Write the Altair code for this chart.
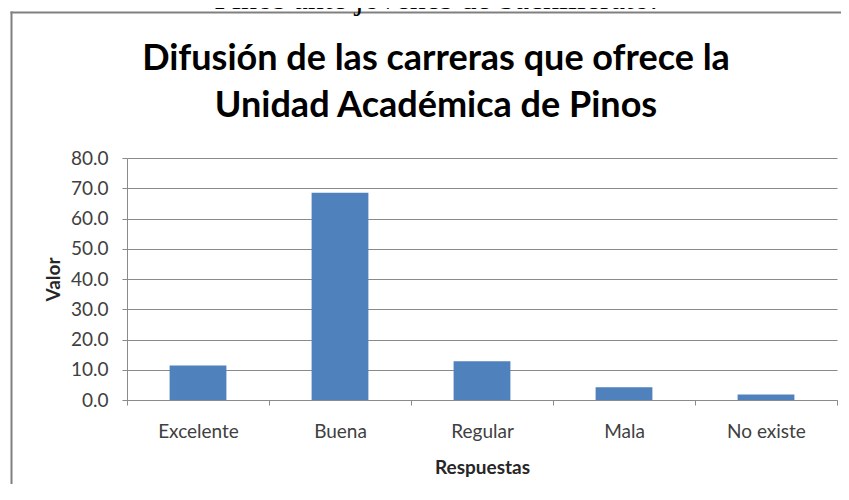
import altair as alt
import pandas as pd

# ---- data ----
categorias = ["Excelente", "Buena", "Regular", "Mala", "No existe"]
valores = [11.4, 68.5, 12.8, 4.2, 1.8]
y_ticks = [0, 10, 20, 30, 40, 50, 60, 70, 80]

titulo_1 = "Difusión de las carreras que ofrece la"
titulo_2 = "Unidad Académica de Pinos"
texto_superior = "Pinos ante jóvenes de bachillerato."
eje_x = "Respuestas"
eje_y = "Valor"

df = pd.DataFrame({"Respuesta": categorias, "Valor": valores})

FONT = "Lato"
GRAY = "#8a8a8a"
LABEL = "#404040"
W, H = 710, 242
PAD = {"left": 119, "top": 150, "right": 4, "bottom": 84}

bars = alt.Chart(df).mark_bar(
    color="#4F81BD", width=alt.RelativeBandSize(0.4)
).encode(
    x=alt.X(
        "Respuesta:N",
        sort=categorias,
        scale=alt.Scale(paddingInner=0, paddingOuter=0),
        axis=alt.Axis(
            title=eje_x,
            labelAngle=0,
            labelFont=FONT,
            labelFontSize=19,
            labelColor=LABEL,
            labelPadding=17,
            tickBand="extent",
            tickSize=5,
            tickColor=GRAY,
            domainColor=GRAY,
            grid=False,
            titleFont=FONT,
            titleFontSize=19,
            titleFontWeight="bold",
            titleColor="#262626",
            titleBaseline="alphabetic",
            titleX=W / 2,
            titleY=73,
        ),
    ),
    y=alt.Y(
        "Valor:Q",
        scale=alt.Scale(domain=[0, 80], nice=False),
        axis=alt.Axis(
            title=eje_y,
            values=y_ticks,
            format=".1f",
            labelFont=FONT,
            labelFontSize=19,
            labelColor=LABEL,
            labelPadding=14,
            tickSize=5,
            tickColor=GRAY,
            domainColor=GRAY,
            gridColor=GRAY,
            gridWidth=1,
            titleFont=FONT,
            titleFontSize=19,
            titleFontWeight="bold",
            titleColor="#262626",
            titleAngle=270,
            titleBaseline="alphabetic",
            titleAlign="center",
            titleX=-68,
            titleY=H / 2,
        ),
    ),
)

one = pd.DataFrame({"k": [0]})

frame_top = alt.Chart(one).mark_rule(color="#808080", strokeWidth=2).encode(
    x=alt.value(-116.5), x2=alt.value(W + PAD["right"]), y=alt.value(-145.5)
)
frame_left = alt.Chart(one).mark_rule(color="#808080", strokeWidth=2).encode(
    x=alt.value(-115.5), y=alt.value(-146.5), y2=alt.value(H + PAD["bottom"])
)

top_text = alt.Chart(one).mark_text(
    font="Liberation Serif", fontSize=32, align="center",
    baseline="alphabetic", color="#000000",
).encode(x=alt.value(309), y=alt.value(-149), text=alt.value(texto_superior))

t1 = alt.Chart(one).mark_text(
    font=FONT, fontSize=36, fontWeight="bold", align="center",
    baseline="alphabetic", color="#000000",
).encode(x=alt.value(309), y=alt.value(-88), text=alt.value(titulo_1))

t2 = alt.Chart(one).mark_text(
    font=FONT, fontSize=36, fontWeight="bold", align="center",
    baseline="alphabetic", color="#000000",
).encode(x=alt.value(309), y=alt.value(-41), text=alt.value(titulo_2))

chart = alt.layer(frame_top, frame_left, bars, top_text, t1, t2).properties(
    width=W,
    height=H,
    autosize=alt.AutoSizeParams(type="none"),
    padding=PAD,
    background="white",
).configure_view(stroke=None)

chart.save("out.html", embed_options={"renderer": "svg", "actions": False})
